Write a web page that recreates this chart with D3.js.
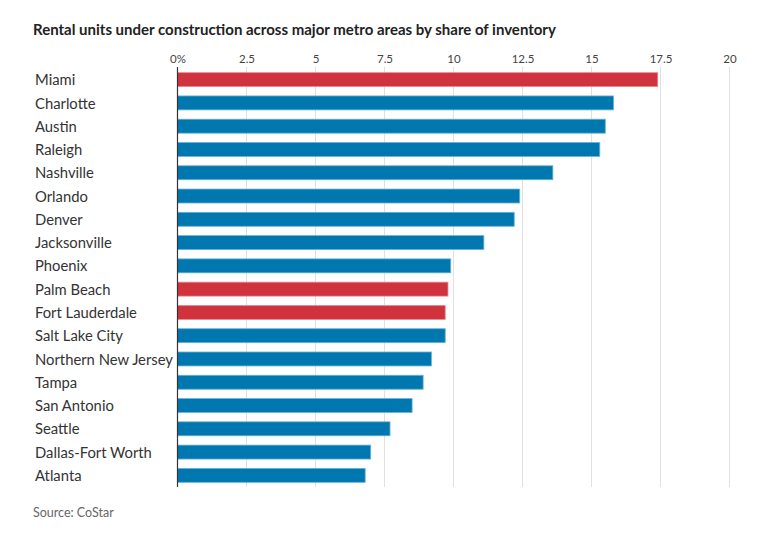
<!DOCTYPE html>
<html><head><meta charset="utf-8">
<script src="https://cdn.jsdelivr.net/npm/d3@7"></script>
<style>body{margin:0;background:#fff;} svg{display:block;}</style>
</head><body>
<svg id="c" width="763" height="544"></svg>
<script>
const categories = ["Miami","Charlotte","Austin","Raleigh","Nashville","Orlando","Denver","Jacksonville","Phoenix","Palm Beach","Fort Lauderdale","Salt Lake City","Northern New Jersey","Tampa","San Antonio","Seattle","Dallas-Fort Worth","Atlanta"];
const values = [17.4,15.8,15.5,15.3,13.6,12.4,12.2,11.1,9.9,9.8,9.7,9.7,9.2,8.9,8.5,7.7,7.0,6.8];
const highlighted = ["Miami","Palm Beach","Fort Lauderdale"];
const tickValues = [0,2.5,5,7.5,10,12.5,15,17.5,20];
const tickLabels = ["0%","2.5","5","7.5","10","12.5","15","17.5","20"];

const svg = d3.select("#c");
const font = "Lato, 'Noto Sans', sans-serif";
const x = d3.scaleLinear().domain([0,20]).range([177.5,729.5]);
const y = d3.scaleBand().domain(categories).range([68,487]).paddingInner(0.4).paddingOuter(0.2);

svg.append("text").attr("x",33).attr("y",35).attr("font-family",font).attr("font-weight","bold")
  .attr("font-size",15).attr("fill","#222").text("Rental units under construction across major metro areas by share of inventory");

const ax = svg.append("g").attr("transform","translate(0,62.5)")
  .call(d3.axisTop(x).tickValues(tickValues).tickFormat((d,i)=>tickLabels[i]).tickSize(0).tickPadding(0));
ax.select(".domain").remove();
ax.selectAll("text").attr("font-family",font).attr("font-size",11.5).attr("fill","#444");

svg.append("g").selectAll("line").data(tickValues.slice(1)).join("line")
  .attr("x1",d=>x(d)).attr("x2",d=>x(d)).attr("y1",67).attr("y2",487)
  .attr("stroke","#e0e0e0").attr("stroke-width",1);

svg.append("g").selectAll("rect").data(categories).join("rect")
  .attr("x",x(0)).attr("y",d=>y(d)).attr("height",y.bandwidth())
  .attr("width",(d,i)=>x(values[i])-x(0))
  .attr("fill",d=>highlighted.includes(d)?"#d0333d":"#0078af")
  .attr("stroke",d=>highlighted.includes(d)?"#e88a92":"#6ab3da").attr("stroke-width",0.8);

svg.append("line").attr("x1",x(0)).attr("x2",x(0)).attr("y1",67).attr("y2",487).attr("stroke","#333").attr("stroke-width",1.2);

svg.append("g").selectAll("text").data(categories).join("text")
  .attr("x",35).attr("y",d=>y(d)+y.bandwidth()/2).attr("dy","0.38em")
  .attr("font-family",font).attr("font-size",14.8).attr("fill","#333").text(d=>d);

svg.append("text").attr("x",33).attr("y",517).attr("font-family",font).attr("font-size",12.5).attr("fill","#666").text("Source: CoStar");
</script>
</body></html>
